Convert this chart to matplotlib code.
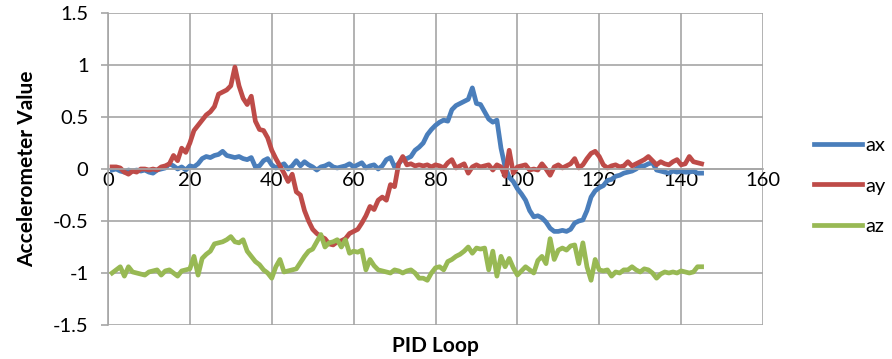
import numpy as np
import matplotlib
matplotlib.use("Agg")
import matplotlib.pyplot as plt

plt.rcParams['font.family'] = ['Lato', 'DejaVu Sans']

# -------------------------
# Data
# -------------------------

loop = list(range(1, 146))

ax_vals = [
    -0.01, 0.00, -0.02, -0.03, -0.01, -0.02, -0.01, -0.02, -0.01, -0.03,
    -0.04, -0.01, 0.00, 0.01, 0.05, 0.03, 0.00, 0.02, -0.01, 0.03,
    0.02, 0.05, 0.10, 0.12, 0.11, 0.13, 0.14, 0.17, 0.13, 0.12,
    0.11, 0.12, 0.10, 0.09, 0.11, 0.02, 0.03, 0.08, 0.10, 0.04,
    0.01, 0.03, 0.05, 0.00, 0.03, 0.08, 0.03, 0.07, 0.04, 0.02,
    -0.01, 0.02, 0.03, 0.05, 0.02, 0.01, 0.02, 0.03, 0.05, 0.02,
    0.04, 0.06, 0.01, 0.03, 0.04, 0.00, 0.03, 0.09, 0.11, 0.02,
    0.05, 0.10, 0.10, 0.12, 0.18, 0.21, 0.25, 0.33, 0.38, 0.42,
    0.45, 0.47, 0.46, 0.57, 0.61, 0.63, 0.65, 0.67, 0.78, 0.63,
    0.62, 0.55, 0.48, 0.45, 0.47, 0.20, 0.02, -0.08, -0.12, -0.19,
    -0.24, -0.30, -0.40, -0.46, -0.45, -0.47, -0.51, -0.57, -0.60, -0.60,
    -0.59, -0.60, -0.58, -0.52, -0.50, -0.49, -0.40, -0.27, -0.21, -0.18,
    -0.16, -0.11, -0.10, -0.07, -0.06, -0.04, -0.03, -0.02, 0.00, 0.03,
    0.03, 0.05, 0.06, -0.01, -0.02, -0.03, -0.04, -0.02, -0.03, -0.02,
    -0.03, -0.03, -0.02, -0.04, -0.04,
]

ay_vals = [
    0.02, 0.02, 0.01, -0.03, -0.05, -0.02, -0.03, 0.00, 0.00, -0.01,
    0.00, -0.01, 0.02, 0.03, 0.05, 0.13, 0.08, 0.20, 0.16, 0.25,
    0.37, 0.42, 0.47, 0.52, 0.55, 0.60, 0.72, 0.74, 0.76, 0.80,
    0.98, 0.80, 0.68, 0.62, 0.70, 0.46, 0.38, 0.37, 0.30, 0.18,
    0.10, 0.03, -0.04, -0.12, -0.05, -0.22, -0.25, -0.40, -0.50, -0.58,
    -0.62, -0.65, -0.67, -0.72, -0.73, -0.70, -0.69, -0.67, -0.62, -0.60,
    -0.58, -0.52, -0.45, -0.36, -0.39, -0.30, -0.27, -0.30, -0.15, -0.17,
    0.05, 0.12, 0.04, 0.05, 0.03, 0.04, 0.03, 0.04, 0.02, 0.04,
    0.03, 0.01, 0.06, 0.09, 0.01, 0.03, 0.05, -0.04, 0.02, 0.04,
    0.02, 0.03, 0.04, -0.01, 0.04, 0.02, -0.07, 0.18, -0.04, 0.02,
    0.03, 0.04, -0.01, 0.00, -0.01, 0.05, 0.00, -0.06, 0.02, 0.04,
    0.01, 0.03, 0.05, 0.10, 0.01, 0.04, 0.10, 0.15, 0.17, 0.12,
    0.04, 0.01, 0.03, 0.04, 0.02, 0.03, 0.07, 0.03, 0.05, 0.07,
    0.09, 0.12, 0.08, 0.04, 0.07, 0.05, 0.04, 0.07, 0.09, 0.04,
    0.05, 0.12, 0.07, 0.06, 0.05,
]

az_vals = [
    -1.00, -0.97, -0.94, -1.03, -0.94, -0.99, -1.00, -1.01, -1.02, -0.99,
    -0.98, -0.97, -1.02, -0.98, -0.97, -1.00, -1.03, -0.98, -0.97, -0.96,
    -0.84, -1.02, -0.86, -0.82, -0.79, -0.72, -0.71, -0.70, -0.68, -0.65,
    -0.70, -0.71, -0.68, -0.79, -0.84, -0.89, -0.92, -0.97, -1.00, -1.05,
    -0.94, -0.87, -0.99, -0.98, -0.97, -0.96, -0.90, -0.84, -0.79, -0.77,
    -0.70, -0.63, -0.75, -0.71, -0.70, -0.68, -0.75, -0.68, -0.81, -0.79,
    -0.80, -0.78, -0.97, -0.87, -0.93, -0.97, -0.98, -0.99, -1.00, -0.97,
    -0.98, -1.00, -0.98, -0.97, -1.00, -1.05, -1.05, -1.07, -1.00, -0.95,
    -0.94, -0.97, -0.89, -0.87, -0.84, -0.82, -0.79, -0.75, -0.81, -0.76,
    -0.77, -0.76, -0.97, -0.79, -1.03, -0.84, -0.94, -0.86, -0.95, -1.02,
    -0.98, -0.94, -0.97, -1.00, -0.88, -0.84, -0.91, -0.67, -0.87, -0.78,
    -0.76, -0.78, -0.74, -0.73, -0.91, -0.71, -0.94, -1.07, -0.87, -0.97,
    -0.98, -0.97, -1.03, -0.99, -1.00, -0.97, -0.97, -0.94, -0.97, -0.99,
    -0.96, -0.97, -1.00, -1.05, -1.01, -0.99, -1.00, -0.99, -1.00, -0.98,
    -0.99, -1.00, -0.99, -0.94, -0.94,
]

x_ticks = [0, 20, 40, 60, 80, 100, 120, 140, 160]
y_ticks = [-1.5, -1, -0.5, 0, 0.5, 1, 1.5]
y_labels = ["-1.5", "-1", "-0.5", "0", "0.5", "1", "1.5"]

# -------------------------
# Plot
# -------------------------

grid_c = "#a6a6a6"

fig = plt.figure(figsize=(8.92, 3.59), dpi=100)
ax = fig.add_axes([108/892, 34/359, 655/892, 312/359])

ax.plot(loop, ax_vals, color="#4a7ebb", lw=3.4, label="ax", solid_joinstyle="round")
ax.plot(loop, ay_vals, color="#be4b48", lw=3.4, label="ay", solid_joinstyle="round")
ax.plot(loop, az_vals, color="#98b954", lw=3.4, label="az", solid_joinstyle="round")

ax.set_xlim(0, 160)
ax.set_ylim(-1.5, 1.5)
ax.set_xticks(x_ticks)
ax.set_yticks(y_ticks)
ax.set_yticklabels(y_labels)

ax.grid(True, color=grid_c, lw=1.2)
ax.set_axisbelow(True)

for s in ["top", "right"]:
    ax.spines[s].set_visible(False)
ax.spines["left"].set_color(grid_c)
ax.spines["left"].set_linewidth(1.2)
ax.spines["bottom"].set_position(("data", 0))
ax.spines["bottom"].set_color(grid_c)
ax.spines["bottom"].set_linewidth(1.2)

ax.tick_params(axis="y", direction="out", length=5, color=grid_c, width=1.2,
               labelsize=14.5, pad=9)
ax.tick_params(axis="x", length=0, labelsize=14.5, pad=2)

ax.set_ylabel("Accelerometer Value", fontsize=15, fontweight="bold")
ax.yaxis.set_label_coords(-0.108, 0.5)
fig.text(435/892, 1 - 346/359, "PID Loop", fontsize=15, fontweight="bold",
         ha="center", va="center")

fig.legend(loc="center left", bbox_to_anchor=(814/892, 1 - 186/359),
           frameon=False, fontsize=14.5, handlelength=2.4, labelspacing=1.15,
           handletextpad=0.15, borderaxespad=0, borderpad=0)

plt.savefig("out.png", dpi=100)
